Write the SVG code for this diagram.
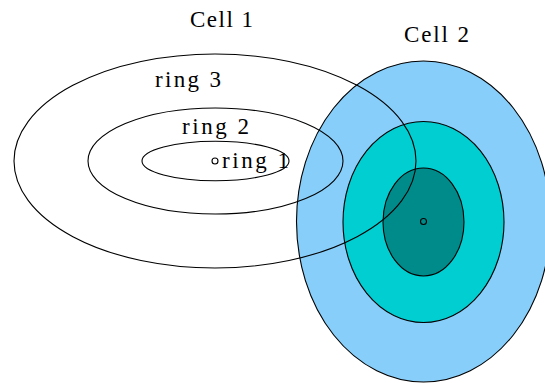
<svg xmlns="http://www.w3.org/2000/svg" width="545" height="383" viewBox="0 0 545 383">
<style>
.l{stroke:#000;stroke-width:1.1}
.o{fill:none}
.t{font-family:"Liberation Serif",serif;font-size:23px;fill:#000}
</style>
<rect width="545" height="383" fill="#fff"/>
<g id="cell2">
<ellipse class="l" cx="423.5" cy="221.5" rx="127" ry="160.5" fill="#87CEFA"/>
<ellipse class="l" cx="423.5" cy="222" rx="80.5" ry="100.5" fill="#00CED1"/>
<ellipse class="l" cx="423.5" cy="222" rx="40.5" ry="54" fill="#008B8B"/>
<circle class="l o" cx="423.5" cy="221.5" r="3"/>
<text class="t" x="404" y="42" textLength="65" lengthAdjust="spacing">Cell 2</text>
</g>
<g id="cell1">
<ellipse id="ring3" class="l o" cx="215" cy="161" rx="201" ry="107"/>
<ellipse id="ring2" class="l o" cx="215.5" cy="161" rx="127.5" ry="53"/>
<ellipse id="ring1" class="l o" cx="215.5" cy="161" rx="73.5" ry="19.7"/>
<circle class="l o" cx="215" cy="161" r="3"/>
<text class="t" x="190" y="27" textLength="63" lengthAdjust="spacing">Cell 1</text>
<text class="t" x="155" y="87" textLength="66" lengthAdjust="spacing">ring 3</text>
<text class="t" x="182" y="134" textLength="67" lengthAdjust="spacing">ring 2</text>
<text class="t" x="222" y="168" textLength="67" lengthAdjust="spacing">ring 1</text>
</g>
<g id="connectors"/>
</svg>
